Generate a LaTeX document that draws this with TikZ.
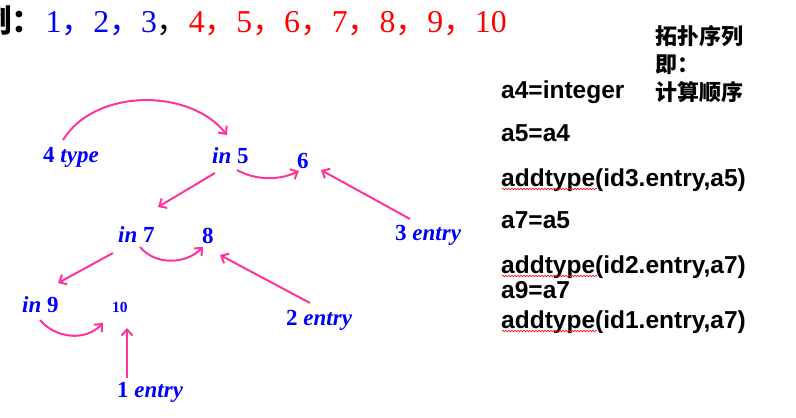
\documentclass[tikz,border=0pt]{standalone}
\usepackage{fontspec}
\usetikzlibrary{arrows.meta,calc,decorations.pathmorphing}
\newfontfamily\arialf{Liberation Sans}
\newfontfamily\timesf{Liberation Serif}
\newfontfamily\cjkf{Noto Sans CJK SC}
\definecolor{arrpink}{HTML}{FF3399}
\definecolor{lblue}{HTML}{0000FF}
\definecolor{tred}{HTML}{FF0000}
\newcommand{\cc}{{\cjkf ，}}
\begin{document}
\begin{tikzpicture}[x=1pt,y=-1pt,
  lbl/.style={anchor=base west,inner sep=0pt,text=lblue,font=\timesf\bfseries\fontsize{23}{27}\selectfont},
  code/.style={anchor=base west,inner sep=0pt,font=\arialf\bfseries\fontsize{24.5}{28}\selectfont},
  cjkline/.style={anchor=base west,inner sep=0pt,font=\cjkf\bfseries\fontsize{22}{26}\selectfont},
  arr/.style={draw=arrpink,line width=2pt,-{Straight Barb[length=6pt,width=11pt]}},
  squig/.style={draw=red,line width=0.6pt,decorate,decoration={snake,amplitude=0.8pt,segment length=3pt}}]
\useasboundingbox (0,0) rectangle (796,418);
% top line
\node[anchor=base east,inner sep=0pt,font=\cjkf\bfseries\fontsize{31.8}{34}\selectfont] (ex) at (12.5,32) {例};
\node[anchor=base west,inner sep=0pt,font=\cjkf\bfseries\fontsize{31.8}{34}\selectfont] (colon) at (11,32) {：};
\node[anchor=base west,inner sep=0pt,font=\timesf\fontsize{31.8}{34}\selectfont] (seq) at (45.5,32)
  {{\color{lblue}1\cc 2\cc 3}\cc{\color{tred}4\cc 5\cc 6\cc 7\cc 8\cc 9\cc 10}};
% tree labels
\node[lbl] (t4) at (43,162) {4 \textit{type}};
\node[lbl] (i5) at (212,163) {\textit{in} 5};
\node[lbl] (n6) at (297,168) {6};
\node[lbl] (i7) at (118,242) {\textit{in} 7};
\node[lbl] (n8) at (202,243) {8};
\node[lbl] (e3) at (395,240) {3 \textit{entry}};
\node[lbl] (i9) at (22,312) {\textit{in} 9};
\node[lbl,font=\timesf\bfseries\fontsize{15.5}{18}\selectfont] (n10) at (112,312) {10};
\node[lbl] (e2) at (286,325) {2 \textit{entry}};
\node[lbl] (e1) at (117,397) {1 \textit{entry}};
% arrows
\draw[arr] ($(t4.base west)+(20,-22)$) .. controls (95,88) and (190,88) .. ($(i5.base west)+(15,-28)$);
\draw[arr] ($(i5.base west)+(25,7)$) .. controls (255,180) and (278,181) .. ($(n6.base west)+(2,3)$);
\draw[arr] ($(i5.base west)+(3,10)$) -- ($(i7.base west)+(40,-35)$);
\draw[arr] ($(e3.base west)+(15,-21)$) -- ($(n6.base west)+(24,2)$);
\draw[arr] ($(i7.base west)+(22,5)$) .. controls (155,265) and (185,265) .. ($(n8.base west)+(1,4)$);
\draw[arr] ($(i7.base west)+(-5,11)$) -- ($(i9.base west)+(36,-29)$);
\draw[arr] ($(e2.base west)+(24,-22)$) -- ($(n8.base west)+(18,12)$);
\draw[arr] ($(i9.base west)+(18,8)$) .. controls (55,338) and (85,342) .. ($(n10.base west)+(-9,11)$);
\draw[arr] ($(e1.base west)+(10,-19)$) -- ($(n10.base west)+(15,16)$);
% code lines
\node[code] (c1) at (501,98) {a4=integer};
\node[code] (c2) at (501,141.5) {a5=a4};
\node[code] (c3) at (501,186) {addtype(id3.entry,a5)};
\node[code] (c4) at (501,228) {a7=a5};
\node[code] (c5) at (501,273) {addtype(id2.entry,a7)};
\node[code] (c6) at (501,298) {a9=a7};
\node[code] (c7) at (501,328) {addtype(id1.entry,a7)};
\foreach \c in {c3,c5,c7}
  \draw[squig] ($(\c.base west)+(1,3)$) -- ($(\c.base west)+(96,3)$);
% chinese notes
\node[cjkline] (z1) at (655,44.5) {拓扑序列};
\node[cjkline] (z2) at (655,72) {即：};
\node[cjkline] (z3) at (655,100.5) {计算顺序};
\end{tikzpicture}
\end{document}
